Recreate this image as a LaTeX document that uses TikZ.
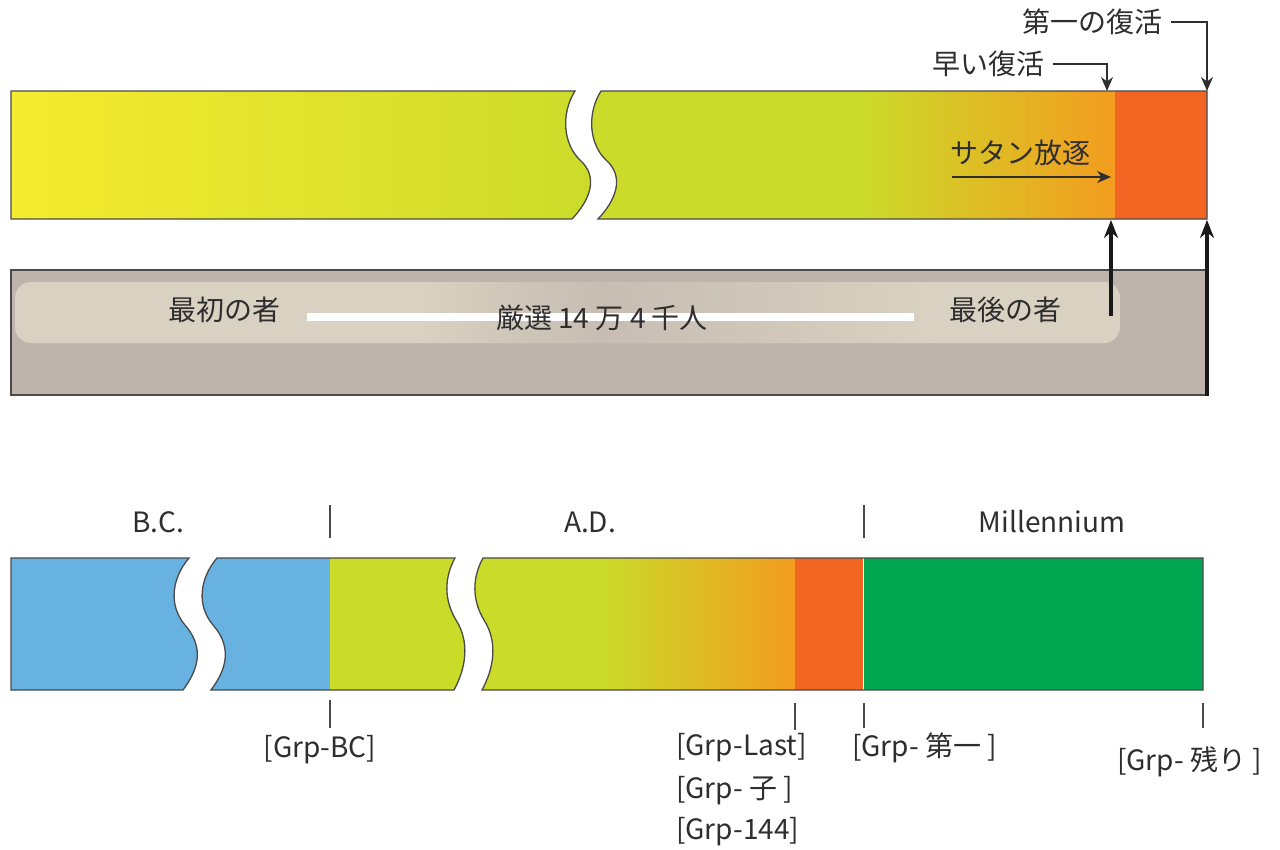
\documentclass[tikz,border=0pt]{standalone}
\usepackage{fontspec}
\setmainfont{Noto Sans CJK JP}
\usetikzlibrary{arrows.meta}
\definecolor{cyel}{HTML}{F6EB2F}
\definecolor{cyg}{HTML}{CBDB2A}
\definecolor{cmid}{HTML}{DCC828}
\definecolor{corg}{HTML}{F39C1F}
\definecolor{cred}{HTML}{F26522}
\definecolor{cgray}{HTML}{BFB4AB}
\definecolor{cband}{HTML}{D9D1C1}
\definecolor{cbandmid}{HTML}{C7BDB3}
\definecolor{cblue}{HTML}{67B2E1}
\definecolor{cgreen}{HTML}{00A650}
\definecolor{cedge}{HTML}{4A4A4A}
\definecolor{ctext}{HTML}{2E2E2E}
\tikzset{
  lbl/.style={font=\fontsize{28}{32}\selectfont, text=ctext, inner sep=0pt},
  edge/.style={draw=cedge, line width=1.3pt},
  ptr/.style={draw=ctext, line width=1.5pt, -{Stealth[length=14pt,width=12pt]}},
  bigup/.style={draw=black!90, line width=3.2pt, -{Stealth[length=18pt,width=14pt]}},
  tick/.style={draw=cedge, line width=1.3pt}
}
\begin{document}
\begin{tikzpicture}[x=1pt,y=-1pt]
\useasboundingbox (0,0) rectangle (1280,849);
\fill[white] (0,0) rectangle (1280,849);

% ---------- top bar ----------
\shade[left color=cyel, right color=cyg]
  (11,91) -- (575,91) .. controls (560,115) and (564,145) .. (580,160)
  .. controls (599,177) and (590,200) .. (572,219) -- (11,219) -- cycle;
\draw[edge]
  (11,91) -- (575,91) .. controls (560,115) and (564,145) .. (580,160)
  .. controls (599,177) and (590,200) .. (572,219) -- (11,219) -- cycle;
\begin{scope}
\clip (601,91) -- (1207,91) -- (1207,219) -- (598,219)
  .. controls (616,200) and (625,177) .. (606,160)
  .. controls (590,145) and (586,115) .. (601,91) -- cycle;
\fill[cyg] (580,85) rectangle (860,225);
\shade[left color=cyg, middle color=cmid, right color=corg] (859,85) rectangle (1116,225);
\fill[cred] (1115,85) rectangle (1210,225);
\end{scope}
\draw[edge] (601,91) -- (1207,91) -- (1207,219) -- (598,219)
  .. controls (616,200) and (625,177) .. (606,160)
  .. controls (590,145) and (586,115) .. (601,91) -- cycle;

% labels + pointers above top bar
\coordinate (t1) at (1207,91);
\coordinate (t2) at (1107,91);
\node[lbl] (first) at (1092,22) {第一の復活};
\node[lbl] (early) at (988,64) {早い復活};
\draw[ptr, shorten <=9pt] (first.east) -| (t1);
\draw[ptr, shorten <=9pt] (early.east) -| (t2);
\node[lbl] (satan) at (1020,153) {サタン放逐};
\coordinate (sa) at (952,177);
\coordinate (sb) at (1111,177);
\draw[ptr] (sa) -- (sb);

% ---------- gray bar ----------
\fill[cgray] (11,270) rectangle (1207,395);
\begin{scope}
\clip[rounded corners=16pt] (15,282) rectangle (1120,343);
\fill[cband] (10,280) rectangle (1125,345);
\shade[left color=cband, right color=cbandmid] (420,280) rectangle (600,345);
\shade[left color=cbandmid, right color=cband] (599,280) rectangle (930,345);
\end{scope}
\draw[edge] (11,270) rectangle (1207,395);
\draw[white, line width=8pt] (307,317) -- (914,317);
\node[lbl] (firstp) at (224,310) {最初の者};
\node[lbl] (sel) at (602,318) {厳選 14 万 4 千人};
\node[lbl] (lastp) at (1005,310) {最後の者};

\coordinate (u1a) at (1111,316);
\coordinate (u1b) at (1111,220);
\coordinate (u2a) at (1207,396);
\coordinate (u2b) at (1207,220);
\draw[bigup] (u1a) -- (u1b);
\draw[bigup] (u2a) -- (u2b);

% ---------- bottom bar ----------
\fill[cblue] (11,558) -- (189,558) .. controls (172,578) and (168,605) .. (185,625)
  .. controls (205,648) and (198,670) .. (183,690) -- (11,690) -- cycle;
\draw[edge] (11,558) -- (189,558) .. controls (172,578) and (168,605) .. (185,625)
  .. controls (205,648) and (198,670) .. (183,690) -- (11,690) -- cycle;

\begin{scope}
\clip (217,558) -- (455,558) .. controls (444,578) and (444,600) .. (456,620)
  .. controls (470,642) and (466,668) .. (454,690) -- (211,690)
  .. controls (226,670) and (233,648) .. (213,625)
  .. controls (196,605) and (200,578) .. (217,558) -- cycle;
\fill[cblue] (190,550) rectangle (331,700);
\fill[cyg] (330,550) rectangle (480,700);
\end{scope}
\draw[edge] (217,558) -- (455,558) .. controls (444,578) and (444,600) .. (456,620)
  .. controls (470,642) and (466,668) .. (454,690) -- (211,690)
  .. controls (226,670) and (233,648) .. (213,625)
  .. controls (196,605) and (200,578) .. (217,558) -- cycle;

\begin{scope}
\clip (483,558) -- (1203,558) -- (1203,690) -- (482,690)
  .. controls (494,668) and (498,642) .. (484,620)
  .. controls (472,600) and (472,578) .. (483,558) -- cycle;
\fill[cyg] (460,550) rectangle (601,700);
\shade[left color=cyg, middle color=cmid, right color=corg] (600,550) rectangle (796,700);
\fill[cred] (795,550) rectangle (864,700);
\fill[cgreen] (864,550) rectangle (1210,700);
\draw[white, line width=1.6pt] (863.5,550) -- (863.5,700);
\end{scope}
\draw[edge] (483,558) -- (1203,558) -- (1203,690) -- (482,690)
  .. controls (494,668) and (498,642) .. (484,620)
  .. controls (472,600) and (472,578) .. (483,558) -- cycle;

% ticks
\coordinate (k1a) at (330,505); \coordinate (k1b) at (330,538);
\coordinate (k2a) at (864,505); \coordinate (k2b) at (864,538);
\coordinate (k3a) at (330,700); \coordinate (k3b) at (330,728);
\coordinate (k4a) at (795,703); \coordinate (k4b) at (795,730);
\coordinate (k5a) at (864,703); \coordinate (k5b) at (864,728);
\coordinate (k6a) at (1203,703); \coordinate (k6b) at (1203,728);
\draw[tick] (k1a) -- (k1b);
\draw[tick] (k2a) -- (k2b);
\draw[tick] (k3a) -- (k3b);
\draw[tick] (k4a) -- (k4b);
\draw[tick] (k5a) -- (k5b);
\draw[tick] (k6a) -- (k6b);

% bottom labels
\node[lbl] (bc) at (158,522) {B.C.};
\node[lbl] (ad) at (590,522) {A.D.};
\node[lbl] (mil) at (1052,522) {Millennium};
\node[lbl] (gbc) at (320,750) {[Grp-BC]};
\node[lbl, anchor=west] (glast) at (676,748) {[Grp-Last]};
\node[lbl, anchor=west] (gko) at (676,791) {[Grp- 子 ]};
\node[lbl, anchor=west] (g144) at (676,832) {[Grp-144]};
\node[lbl, anchor=west] (gfirst) at (852,748) {[Grp- 第一 ]};
\node[lbl, anchor=west] (grest) at (1117,762) {[Grp- 残り ]};
\end{tikzpicture}
\end{document}
